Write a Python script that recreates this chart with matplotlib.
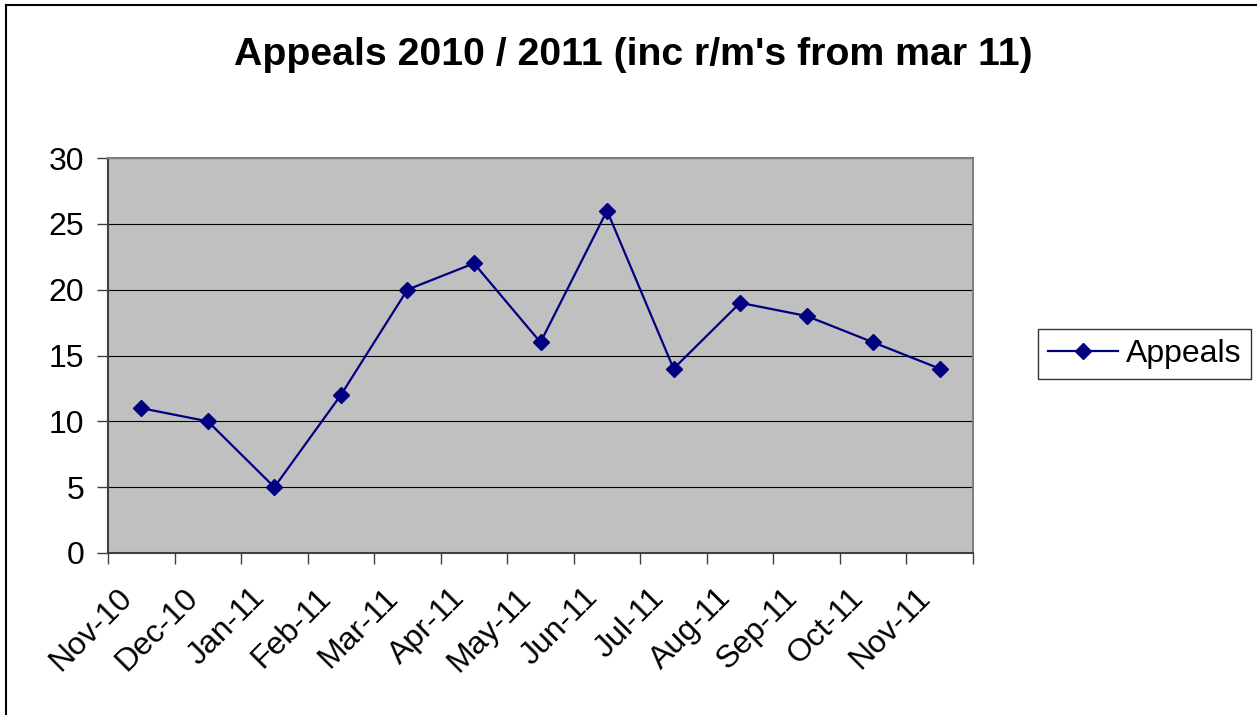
import numpy as np
import matplotlib.pyplot as plt
import matplotlib.transforms as mtransforms
from matplotlib.lines import Line2D

plt.rcParams['font.family'] = ['Liberation Sans', 'DejaVu Sans']

months = ["Nov-10", "Dec-10", "Jan-11", "Feb-11", "Mar-11", "Apr-11", "May-11",
          "Jun-11", "Jul-11", "Aug-11", "Sep-11", "Oct-11", "Nov-11"]
appeals = [11, 10, 5, 12, 20, 22, 16, 26, 14, 19, 18, 16, 14]
yticks = [0, 5, 10, 15, 20, 25, 30]

fig = plt.figure(figsize=(12.57, 7.15), dpi=100)
ax = fig.add_axes([108/1257, 1-553/715, (973-108)/1257, (553-158)/715])
ax.set_facecolor('#C0C0C0')

x = np.arange(len(months))
ax.plot(x, appeals, color='#000080', lw=1.6, marker='D', markersize=8,
        label='Appeals', zorder=3)

ax.set_xlim(-0.5, len(months) - 0.5)
ax.set_ylim(0, 30)
ax.set_yticks(yticks)
ax.yaxis.grid(True, color='black', lw=0.8)
ax.set_axisbelow(True)
ax.tick_params(axis='y', labelsize=23, length=8, width=1, color='#404040', pad=9)

# category boundaries carry the ticks, centres carry the labels
ax.set_xticks(np.arange(len(months) + 1) - 0.5)
ax.set_xticklabels([])
ax.set_xticks(x, minor=True)
ax.set_xticklabels(months, minor=True, rotation=45, ha='right', va='center',
                   rotation_mode='anchor', fontsize=23)
ax.tick_params(axis='x', which='major', length=8, width=1, color='#404040')
ax.tick_params(axis='x', which='minor', length=0, pad=29)
shift = mtransforms.ScaledTranslation(-14/100, 0, fig.dpi_scale_trans)
for lbl in ax.get_xticklabels(minor=True):
    lbl.set_transform(lbl.get_transform() + shift)

for s in ax.spines.values():
    s.set_color('#808080')
    s.set_linewidth(1.5)
ax.spines['left'].set_color('#404040')
ax.spines['bottom'].set_color('#404040')

fig.text(0.504, 1-55/715, "Appeals 2010 / 2011 (inc r/m's from mar 11)",
         ha='center', va='center', fontsize=28.3, fontweight='bold')

leg = ax.legend(loc='center left', bbox_to_anchor=(1038/1257, 1-354/715),
                bbox_transform=fig.transFigure, fontsize=23, frameon=True,
                fancybox=False, edgecolor='black', handlelength=2.2,
                borderpad=0.3, handletextpad=0.25, borderaxespad=0)
leg.get_frame().set_linewidth(1.0)

# outer chart frame (left and top edges visible)
fig.add_artist(Line2D([5.5/1257, 5.5/1257], [0, 1-4.5/715], transform=fig.transFigure,
                      color='black', lw=1.5))
fig.add_artist(Line2D([5.5/1257, 1], [1-4.5/715, 1-4.5/715], transform=fig.transFigure,
                      color='black', lw=1.5))

fig.savefig('out.png', dpi=100)
